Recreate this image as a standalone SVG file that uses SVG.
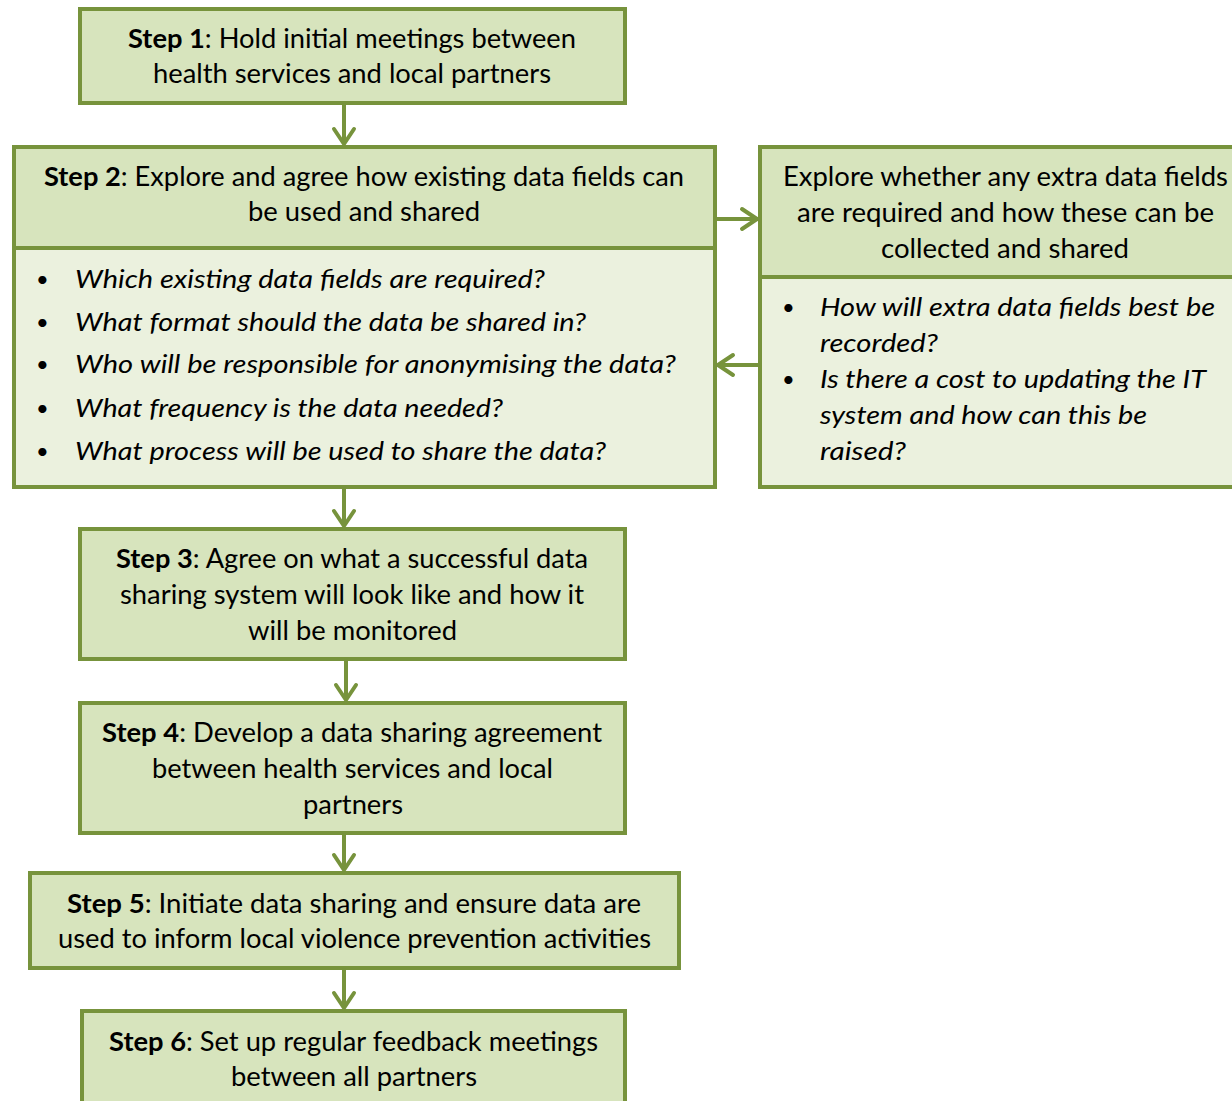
<svg xmlns="http://www.w3.org/2000/svg" width="1232" height="1101" viewBox="0 0 1232 1101">
<defs>
<style>
.hd{fill:#d7e4bd;stroke:#77933c;stroke-width:4}
.bd{fill:#ebf1de;stroke:#77933c;stroke-width:4}
.t{font-family:"Lato","Open Sans","Liberation Sans",sans-serif;font-size:26px;fill:#000}
.c{text-anchor:middle}
.i{font-style:italic}
.b{font-weight:bold}
.bl{font-size:22px;font-style:normal}
.con{stroke:#77933c;stroke-width:4;fill:none;stroke-linecap:round;stroke-linejoin:round}
</style>
</defs>
<rect width="1232" height="1101" fill="#ffffff"/>
<g id="step1">
<rect class="hd" x="80" y="9" width="545" height="94"/>
<text class="t" x="128" y="48" textLength="448" lengthAdjust="spacingAndGlyphs"><tspan class="b">Step 1</tspan>: Hold initial meetings between</text>
<text class="t" x="153" y="83" textLength="398" lengthAdjust="spacingAndGlyphs">health services and local partners</text>
</g>
<g id="step2">
<rect class="bd" x="14" y="147" width="701" height="340"/>
<rect class="hd" x="14" y="147" width="701" height="101"/>
<text class="t" x="44" y="186" textLength="640" lengthAdjust="spacingAndGlyphs"><tspan class="b">Step 2</tspan>: Explore and agree how existing data fields can</text>
<text class="t" x="248" y="221" textLength="232" lengthAdjust="spacingAndGlyphs">be used and shared</text>
<g class="t i">
<text class="bl" x="36" y="287">•</text><text x="75" y="288" textLength="470" lengthAdjust="spacingAndGlyphs">Which existing data fields are required?</text>
<text class="bl" x="36" y="330">•</text><text x="75" y="331" textLength="511" lengthAdjust="spacingAndGlyphs">What format should the data be shared in?</text>
<text class="bl" x="36" y="372">•</text><text x="75" y="373" textLength="601" lengthAdjust="spacingAndGlyphs">Who will be responsible for anonymising the data?</text>
<text class="bl" x="36" y="416">•</text><text x="75" y="417" textLength="428" lengthAdjust="spacingAndGlyphs">What frequency is the data needed?</text>
<text class="bl" x="36" y="459">•</text><text x="75" y="460" textLength="531" lengthAdjust="spacingAndGlyphs">What process will be used to share the data?</text>
</g>
</g>
<g id="extra">
<rect class="bd" x="760" y="147" width="480" height="340"/>
<rect class="hd" x="760" y="147" width="480" height="130"/>
<text class="t" x="783" y="186" textLength="445" lengthAdjust="spacingAndGlyphs">Explore whether any extra data fields</text>
<text class="t" x="797" y="222" textLength="417" lengthAdjust="spacingAndGlyphs">are required and how these can be</text>
<text class="t" x="881" y="258" textLength="248" lengthAdjust="spacingAndGlyphs">collected and shared</text>
<g class="t i">
<text class="bl" x="782" y="315">•</text><text x="820" y="316" textLength="395" lengthAdjust="spacingAndGlyphs">How will extra data fields best be</text>
<text x="820" y="352" textLength="118" lengthAdjust="spacingAndGlyphs">recorded?</text>
<text class="bl" x="782" y="387">•</text><text x="820" y="388" textLength="386" lengthAdjust="spacingAndGlyphs">Is there a cost to updating the IT</text>
<text x="820" y="424" textLength="327" lengthAdjust="spacingAndGlyphs">system and how can this be</text>
<text x="820" y="460" textLength="86" lengthAdjust="spacingAndGlyphs">raised?</text>
</g>
</g>
<g id="step3">
<rect class="hd" x="80" y="529" width="545" height="130"/>
<text class="t" x="116" y="568" textLength="472" lengthAdjust="spacingAndGlyphs"><tspan class="b">Step 3</tspan>: Agree on what a successful data</text>
<text class="t" x="120" y="604" textLength="464" lengthAdjust="spacingAndGlyphs">sharing system will look like and how it</text>
<text class="t" x="248" y="640" textLength="209" lengthAdjust="spacingAndGlyphs">will be monitored</text>
</g>
<g id="step4">
<rect class="hd" x="80" y="703" width="545" height="130"/>
<text class="t" x="102" y="742" textLength="500" lengthAdjust="spacingAndGlyphs"><tspan class="b">Step 4</tspan>: Develop a data sharing agreement</text>
<text class="t" x="152" y="778" textLength="401" lengthAdjust="spacingAndGlyphs">between health services and local</text>
<text class="t" x="303" y="814" textLength="100" lengthAdjust="spacingAndGlyphs">partners</text>
</g>
<g id="step5">
<rect class="hd" x="30" y="873" width="649" height="95"/>
<text class="t" x="67" y="913" textLength="574" lengthAdjust="spacingAndGlyphs"><tspan class="b">Step 5</tspan>: Initiate data sharing and ensure data are</text>
<text class="t" x="58" y="948" textLength="593" lengthAdjust="spacingAndGlyphs">used to inform local violence prevention activities</text>
</g>
<g id="step6">
<rect class="hd" x="82" y="1011" width="543" height="100"/>
<text class="t" x="109" y="1051" textLength="489" lengthAdjust="spacingAndGlyphs"><tspan class="b">Step 6</tspan>: Set up regular feedback meetings</text>
<text class="t" x="231" y="1086" textLength="246" lengthAdjust="spacingAndGlyphs">between all partners</text>
</g>
<g id="connectors" class="con">
<path d="M344 105V144M334 129L344 144L354 129"/>
<path d="M344 489V526M334 511L344 526L354 511"/>
<path d="M346 661V700M336 685L346 700L356 685"/>
<path d="M344 835V870M334 855L344 870L354 855"/>
<path d="M344 970V1008M334 993L344 1008L354 993"/>
<path d="M717 219H757M742 209L757 219L742 229"/>
<path d="M758 365H718M733 355L718 365L733 375"/>
</g>
</svg>
